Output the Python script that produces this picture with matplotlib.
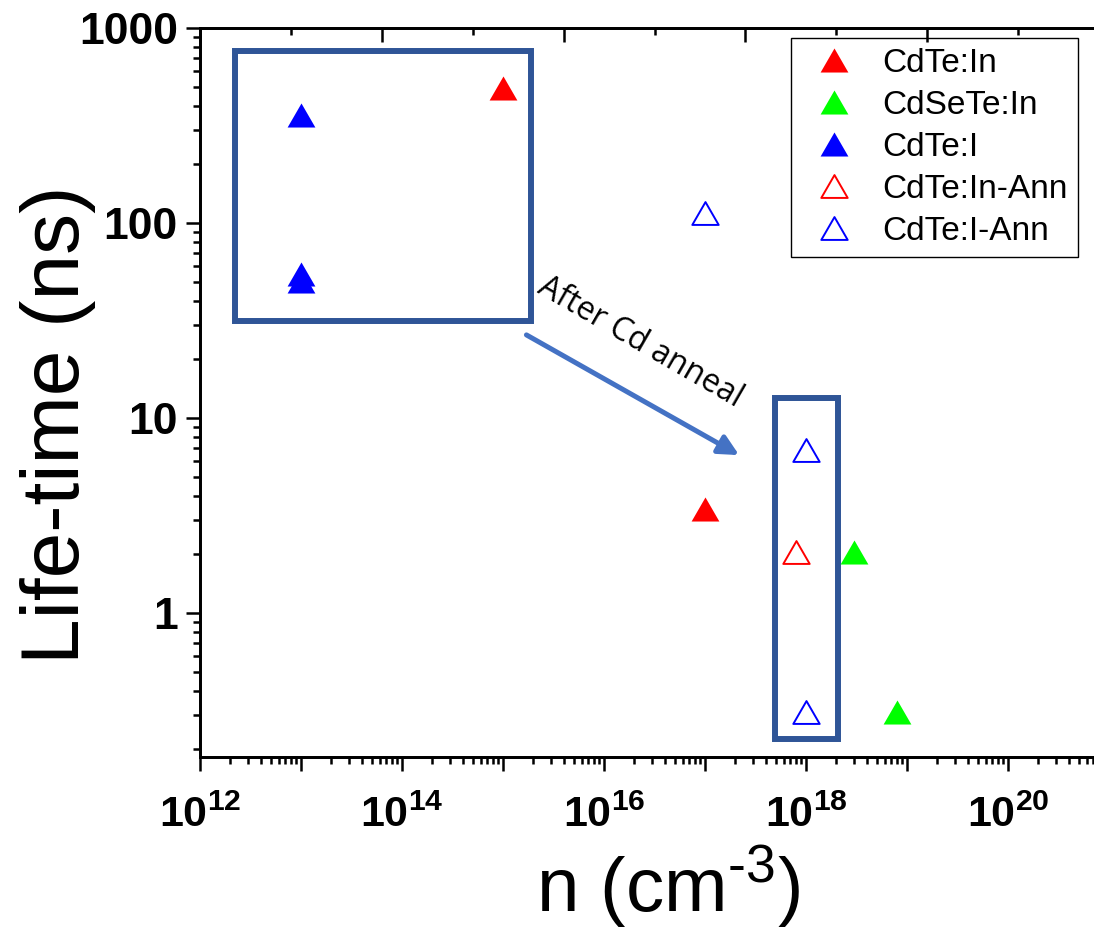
import matplotlib
matplotlib.use("Agg")
import matplotlib.pyplot as plt
from matplotlib.patches import Rectangle
from matplotlib.path import Path
from matplotlib.ticker import FixedLocator, FixedFormatter, LogLocator, NullFormatter
import numpy as np

plt.rcParams['font.family'] = ['Liberation Sans', 'DejaVu Sans']
plt.rcParams['mathtext.fontset'] = 'custom'
plt.rcParams['mathtext.rm'] = 'Liberation Sans'
plt.rcParams['mathtext.bf'] = 'Liberation Sans:bold'

# data
cdte_in_n = [1e15, 1e17]
cdte_in_t = [490, 3.4]
cdsete_in_n = [3.0e18, 7.9e18]
cdsete_in_t = [2.05, 0.31]
cdte_i_n = [1e13, 1e13, 1e13]
cdte_i_t = [360, 54.5, 50.5]
cdte_in_ann_n = [7.9e17]
cdte_in_ann_t = [2.05]
cdte_i_ann_n = [1e17, 1e18, 1e18]
cdte_i_ann_t = [113, 6.9, 0.31]

xlabels = [r'$\mathbf{10^{12}}$', '', r'$\mathbf{10^{14}}$', '', r'$\mathbf{10^{16}}$', '',
           r'$\mathbf{10^{18}}$', '', r'$\mathbf{10^{20}}$', '']
yticks = [1, 10, 100, 1000]
yticklabels = ['1', '10', '100', '1000']

# boxes (x0, x1, y0, y1) and arrow
box1 = (10**12.346, 10**15.282, 31.4, 762)
box2 = (10**17.693, 10**18.316, 0.226, 12.7)
arrow_start = (10**15.232, 26.7)
arrow_end = (10**17.338, 6.46)

tri = Path([(-1, -0.866), (1, -0.866), (0, 0.866), (-1, -0.866)], closed=True)

fig = plt.figure(figsize=(10.94, 9.30), dpi=100)
ax = fig.add_axes([200/1094, 173/930, 909/1094, 729/930])
ax.set_xscale('log')
ax.set_yscale('log')
ax.set_xlim(1e12, 1e21)
ax.set_ylim(0.183, 1000)

ms = 20
ax.plot(cdte_in_n, cdte_in_t, ls='none', marker=tri, ms=ms, mfc='#FF0000', mec='#FF0000', mew=0, label='CdTe:In', zorder=3)
ax.plot(cdsete_in_n, cdsete_in_t, ls='none', marker=tri, ms=ms, mfc='#00FF00', mec='#00FF00', mew=0, label='CdSeTe:In', zorder=3)
ax.plot(cdte_i_n, cdte_i_t, ls='none', marker=tri, ms=ms, mfc='#0000FF', mec='#0000FF', mew=0, label='CdTe:I', zorder=3)
ax.plot(cdte_in_ann_n, cdte_in_ann_t, ls='none', marker=tri, ms=ms*0.95, mfc='none', mec='#FF0000', mew=1.4, label='CdTe:In-Ann', zorder=3)
ax.plot(cdte_i_ann_n, cdte_i_ann_t, ls='none', marker=tri, ms=ms*0.95, mfc='none', mec='#0000FF', mew=1.4, label='CdTe:I-Ann', zorder=3)

for b in (box1, box2):
    ax.add_patch(Rectangle((b[0], b[2]), b[1]-b[0], b[3]-b[2], fill=False,
                           edgecolor='#2F5597', lw=4.3, zorder=2))

ax.annotate('', xy=arrow_end, xytext=arrow_start,
            arrowprops=dict(arrowstyle='-|>', color='#4472C4', lw=3.6,
                            mutation_scale=30, shrinkA=0, shrinkB=0))
ax.text(10**16.36, 24.5, 'After Cd anneal', family=['Open Sans', 'DejaVu Sans'],
        fontsize=23, rotation=-30, rotation_mode='anchor', ha='center', va='center')

# axes styling
for s in ax.spines.values():
    s.set_linewidth(2)
ax.xaxis.set_major_locator(FixedLocator([10.0**k for k in range(12, 22)]))
ax.xaxis.set_major_formatter(FixedFormatter(xlabels))
ax.xaxis.set_minor_locator(LogLocator(base=10, subs=np.arange(2, 10), numticks=20))
ax.xaxis.set_minor_formatter(NullFormatter())
ax.yaxis.set_major_locator(FixedLocator(yticks))
ax.yaxis.set_major_formatter(FixedFormatter(yticklabels))
ax.yaxis.set_minor_locator(LogLocator(base=10, subs=np.arange(2, 10), numticks=20))
ax.yaxis.set_minor_formatter(NullFormatter())
ax.tick_params(axis='both', which='major', direction='out', length=10, width=1.8)
ax.tick_params(axis='both', which='minor', direction='out', length=5, width=1.8)
ax.tick_params(axis='x', labelsize=31, pad=18)
ax.tick_params(axis='y', labelsize=32, pad=6)
for lab in ax.get_yticklabels():
    lab.set_fontweight('bold')
ax.tick_params(right=False, top=False, which='both')

top = ax.twiny()
top.set_xscale('log')
top.set_xlim(ax.get_xlim())
top.xaxis.set_major_locator(FixedLocator([10**(12+1.8*k) for k in range(6)]))
top.xaxis.set_minor_locator(FixedLocator([10**(12.9+1.8*k) for k in range(5)]))
top.xaxis.set_major_formatter(NullFormatter())
top.xaxis.set_minor_formatter(NullFormatter())
top.tick_params(axis='x', which='major', direction='in', length=10, width=1.8)
top.tick_params(axis='x', which='minor', direction='in', length=5, width=1.8)
for s in top.spines.values():
    s.set_linewidth(2)

fig.text(79/1094, 1-425/930, 'Life-time (ns)', fontsize=59, rotation=90,
         rotation_mode='anchor', ha='center', va='baseline')
fig.text(668/1094, 1-913/930, r'n (cm$^{\text{-}3}$)', fontsize=55,
         ha='center', va='baseline')

leg = ax.legend(loc='upper right', bbox_to_anchor=(1078/1094, 1-38/930),
                bbox_transform=fig.transFigure, fontsize=24, frameon=True,
                fancybox=False, edgecolor='black', framealpha=1,
                handlelength=2.0, handletextpad=0.45, labelspacing=0.33,
                borderpad=0.3, borderaxespad=0)
leg.get_frame().set_linewidth(1)
leg.set_zorder(5)

fig.savefig('out.png', dpi=100)
